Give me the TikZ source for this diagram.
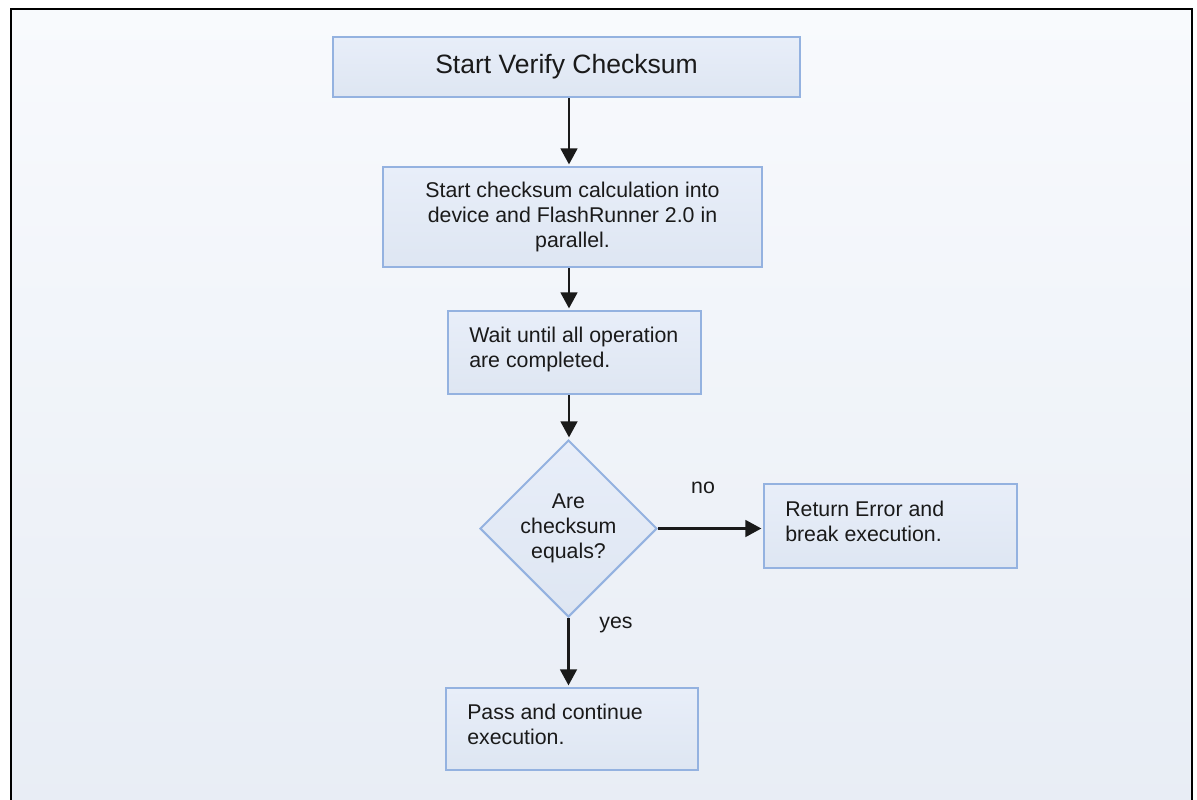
\documentclass[tikz,border=0pt]{standalone}
\usepackage{fontspec}
\setmainfont{Liberation Sans}
\usetikzlibrary{shapes.geometric,arrows.meta,calc}
\definecolor{bordc}{HTML}{94B2E0}
\definecolor{boxtop}{HTML}{E8EEF9}
\definecolor{boxbot}{HTML}{DEE6F2}
\definecolor{bgtop}{HTML}{F8FAFD}
\definecolor{bgbot}{HTML}{E8EDF5}
\definecolor{inkc}{HTML}{1A1A1A}
\begin{document}
\begin{tikzpicture}[x=0.75pt,y=-0.75pt,
  box/.style={draw=bordc, line width=1.5pt, top color=boxtop, bottom color=boxbot, inner sep=0pt},
  bodyfont/.style={font=\fontsize{16}{18.75}\selectfont, text=inkc},
  txt/.style={bodyfont, inner sep=0pt, align=left, anchor=north west},
  arr/.style={draw=inkc, line width=1.9pt, -{Triangle[length=12pt,width=12.5pt]}, shorten >=1.2pt},
  lbl/.style={bodyfont, inner sep=0pt, anchor=base}]
\useasboundingbox (0,0) rectangle (1197,800);
\begin{scope}
\clip (0,0) rectangle (1197,800);
\shade[top color=bgtop, bottom color=bgbot, draw=black, line width=1.5pt] (10.5,9) rectangle (1191.5,815);
\end{scope}
\coordinate (col) at (569,0);
% boxes
\node[box, minimum width=467*0.75pt, minimum height=60*0.75pt, font=\fontsize{19.9}{24}\selectfont, text=inkc] (b1) at (566.5,67) {Start Verify Checksum};
\node[box, bodyfont, align=center, minimum width=379*0.75pt, minimum height=100*0.75pt] (b2) at (572.5,217) {Start checksum calculation into\\device and FlashRunner 2.0 in\\parallel.};
\node[box, minimum width=253*0.75pt, minimum height=83*0.75pt] (b3) at (574.5,352.5) {};
\node[txt] (t3) at (469,326.5) {Wait until all operation\\are completed.};
\node[box, shape=diamond, aspect=1, bodyfont, align=center, minimum width=177*0.75pt, minimum height=177*0.75pt] (d) at (568.5,528.5) {Are\\checksum\\equals?};
\node[box, minimum width=253*0.75pt, minimum height=84*0.75pt] (b4) at (890.5,526) {};
\node[txt] (t4) at (785,500.5) {Return Error and\\break execution.};
\node[box, minimum width=252*0.75pt, minimum height=82*0.75pt] (b5) at (572,729) {};
\node[txt] (t5) at (467,703.5) {Pass and continue\\execution.};
% labels
\node[lbl] (lno) at (703,493) {no};
\node[lbl] (lyes) at (616,628) {yes};
% arrows
\draw[arr] (b1.south -| col) -- (b2.north -| col);
\draw[arr] (b2.south -| col) -- (b3.north -| col);
\draw[arr] (b3.south -| col) -- (d.north -| col);
\draw[arr] (d.east) -- (d.east -| b4.west);
\draw[arr] (d.south) -- (d.south |- b5.north);
\end{tikzpicture}
\end{document}
